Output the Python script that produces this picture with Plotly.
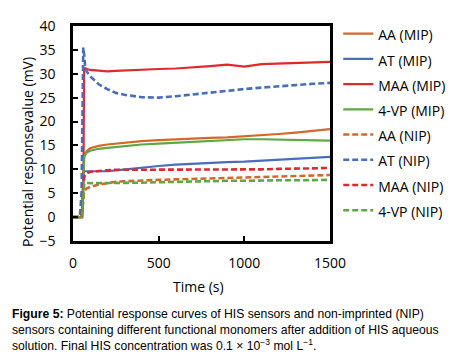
import plotly.graph_objects as go

time_s = [0, 40, 50, 55, 60, 65, 70, 80, 100, 150, 200, 250, 300, 400, 500,
          600, 700, 800, 900, 1000, 1100, 1200, 1300, 1400, 1500]

aa_mip = [0, 0, 0, 2, 9, 12.5, 13.2, 13.8, 14.4, 14.9, 15.2, 15.4, 15.6, 15.9, 16.1,
          16.3, 16.5, 16.6, 16.7, 16.9, 17.1, 17.4, 17.7, 18.0, 18.4]
at_mip = [0, 0, 0, 3, 9.5, 9.6, 9.6, 9.5, 9.5, 9.5, 9.6, 9.8, 10.0, 10.4, 10.7,
          11.0, 11.2, 11.4, 11.5, 11.6, 11.8, 12.0, 12.2, 12.4, 12.6]
maa_mip = [0, 0, 0, 0, 5, 31.0, 31.2, 31.0, 30.8, 30.6, 30.5, 30.6, 30.7, 30.9, 31.0,
           31.1, 31.3, 31.6, 31.9, 31.5, 32.0, 32.1, 32.3, 32.4, 32.5]
vp_mip = [0, 0, 0, 2, 9, 12.5, 13.0, 13.5, 13.9, 14.3, 14.5, 14.7, 14.9, 15.2, 15.4,
          15.6, 15.8, 16.0, 16.2, 16.3, 16.3, 16.2, 16.1, 16.0, 16.0]
aa_nip = [0, 0, 0, 2, 5.0, 5.4, 5.7, 6.0, 6.3, 6.8, 7.1, 7.4, 7.5, 7.7, 7.8,
          7.9, 8.0, 8.1, 8.2, 8.3, 8.4, 8.5, 8.6, 8.7, 8.8]
at_nip = [0, 0, 5, 30, 35.5, 34, 32, 30.5, 29.5, 27.8, 26.8, 26.0, 25.6, 25.1, 25.0,
          25.3, 25.7, 26.1, 26.5, 26.8, 27.1, 27.4, 27.7, 27.9, 28.1]
maa_nip = [0, 0, 0, 3, 7.5, 8.3, 8.8, 9.2, 9.5, 9.7, 9.8, 9.9, 9.9, 10.0, 10.0,
           10.0, 10.0, 10.0, 10.0, 10.0, 10.0, 10.1, 10.1, 10.2, 10.3]
vp_nip = [0, 0, 0, 1, 4, 6.8, 7.1, 7.2, 7.1, 7.1, 7.1, 7.2, 7.2, 7.2, 7.3,
          7.4, 7.5, 7.5, 7.6, 7.6, 7.7, 7.7, 7.7, 7.8, 7.8]

series_names = ["AA (MIP)", "AT (MIP)", "MAA (MIP)", "4-VP (MIP)",
                "AA (NIP)", "AT (NIP)", "MAA (NIP)", "4-VP (NIP)"]
series_values = [aa_mip, at_mip, maa_mip, vp_mip, aa_nip, at_nip, maa_nip, vp_nip]
series_colors = ["#D0692A", "#4A6DBA", "#DC2A2E", "#5FA645",
                 "#D0692A", "#4A6DBA", "#DC2A2E", "#5FA645"]
series_dash = ["solid"] * 4 + ["6px,3px"] * 4

x_ticks = [0, 500, 1000, 1500]
y_ticks = [-5, 0, 5, 10, 15, 20, 25, 30, 35, 40]

fig = go.Figure()
for name, vals, col, dash in zip(series_names, series_values, series_colors, series_dash):
    fig.add_trace(go.Scatter(
        x=time_s, y=vals, mode="lines",
        name='<span style="font-size:14px">' + name + '</span>',
        line=dict(color=col, width=2.2 if dash == "solid" else 2.6, dash=dash),
    ))

tick_font = dict(family="Open Sans", size=14, color="black")

# page body has an 8px default margin, so the figure is drawn 8px in from the corner
fig.update_layout(
    template="none",
    width=456, height=353,
    margin=dict(l=65, r=134, t=18, b=120, autoexpand=False),
    paper_bgcolor="white", plot_bgcolor="white",
    showlegend=True,
    legend=dict(x=1.032, y=1.0465, xanchor="left", yanchor="top",
                font=dict(family="Open Sans", size=17.1, color="black"),
                bgcolor="rgba(0,0,0,0)", borderwidth=0, maxheight=600),
    xaxis=dict(range=[0, 1500], tickvals=x_ticks, ticks="inside", ticklen=5,
               tickwidth=2, tickcolor="black", showgrid=False, zeroline=False,
               showline=True, linecolor="black", linewidth=2.5, mirror=True,
               tickfont=tick_font, ticklabelstandoff=7, automargin=False),
    yaxis=dict(range=[-5, 40], tickvals=y_ticks, ticks="inside", ticklen=5,
               tickwidth=2, tickcolor="black", showgrid=False, zeroline=False,
               showline=True, linecolor="black", linewidth=2.5, mirror=True,
               tickfont=tick_font, ticklabelstandoff=12, automargin=False),
)

def px_x(p):
    return (p - 73) / 257.0

def px_y(p):
    return (241 - p) / 215.0

fig.add_annotation(text="Time (s)", xref="paper", yref="paper",
                   x=px_x(198), y=px_y(286), xanchor="center", yanchor="middle",
                   showarrow=False,
                   font=dict(family="Open Sans", size=14, color="black"))
fig.add_annotation(text="Potential responsevalue (mV)", xref="paper", yref="paper",
                   x=px_x(27), y=px_y(152), xanchor="center", yanchor="middle",
                   showarrow=False, textangle=-90,
                   font=dict(family="Open Sans", size=14, color="black"))

cap_font = dict(family="Liberation Sans", size=12.2, color="black")
caption_lines = [
    "<b>Figure 5:</b> Potential response curves of HIS sensors and non-imprinted (NIP)",
    "sensors containing different functional monomers after addition of HIS aqueous",
    "solution. Final HIS concentration was 0.1 × 10<sup>−3</sup> mol L<sup>−1</sup>.",
]
for line, yy in zip(caption_lines, [314, 330, 345]):
    fig.add_annotation(text=line, xref="paper", yref="paper", x=px_x(10), y=px_y(yy),
                       xanchor="left", yanchor="middle", showarrow=False, font=cap_font)

fig.write_html("out.html")
